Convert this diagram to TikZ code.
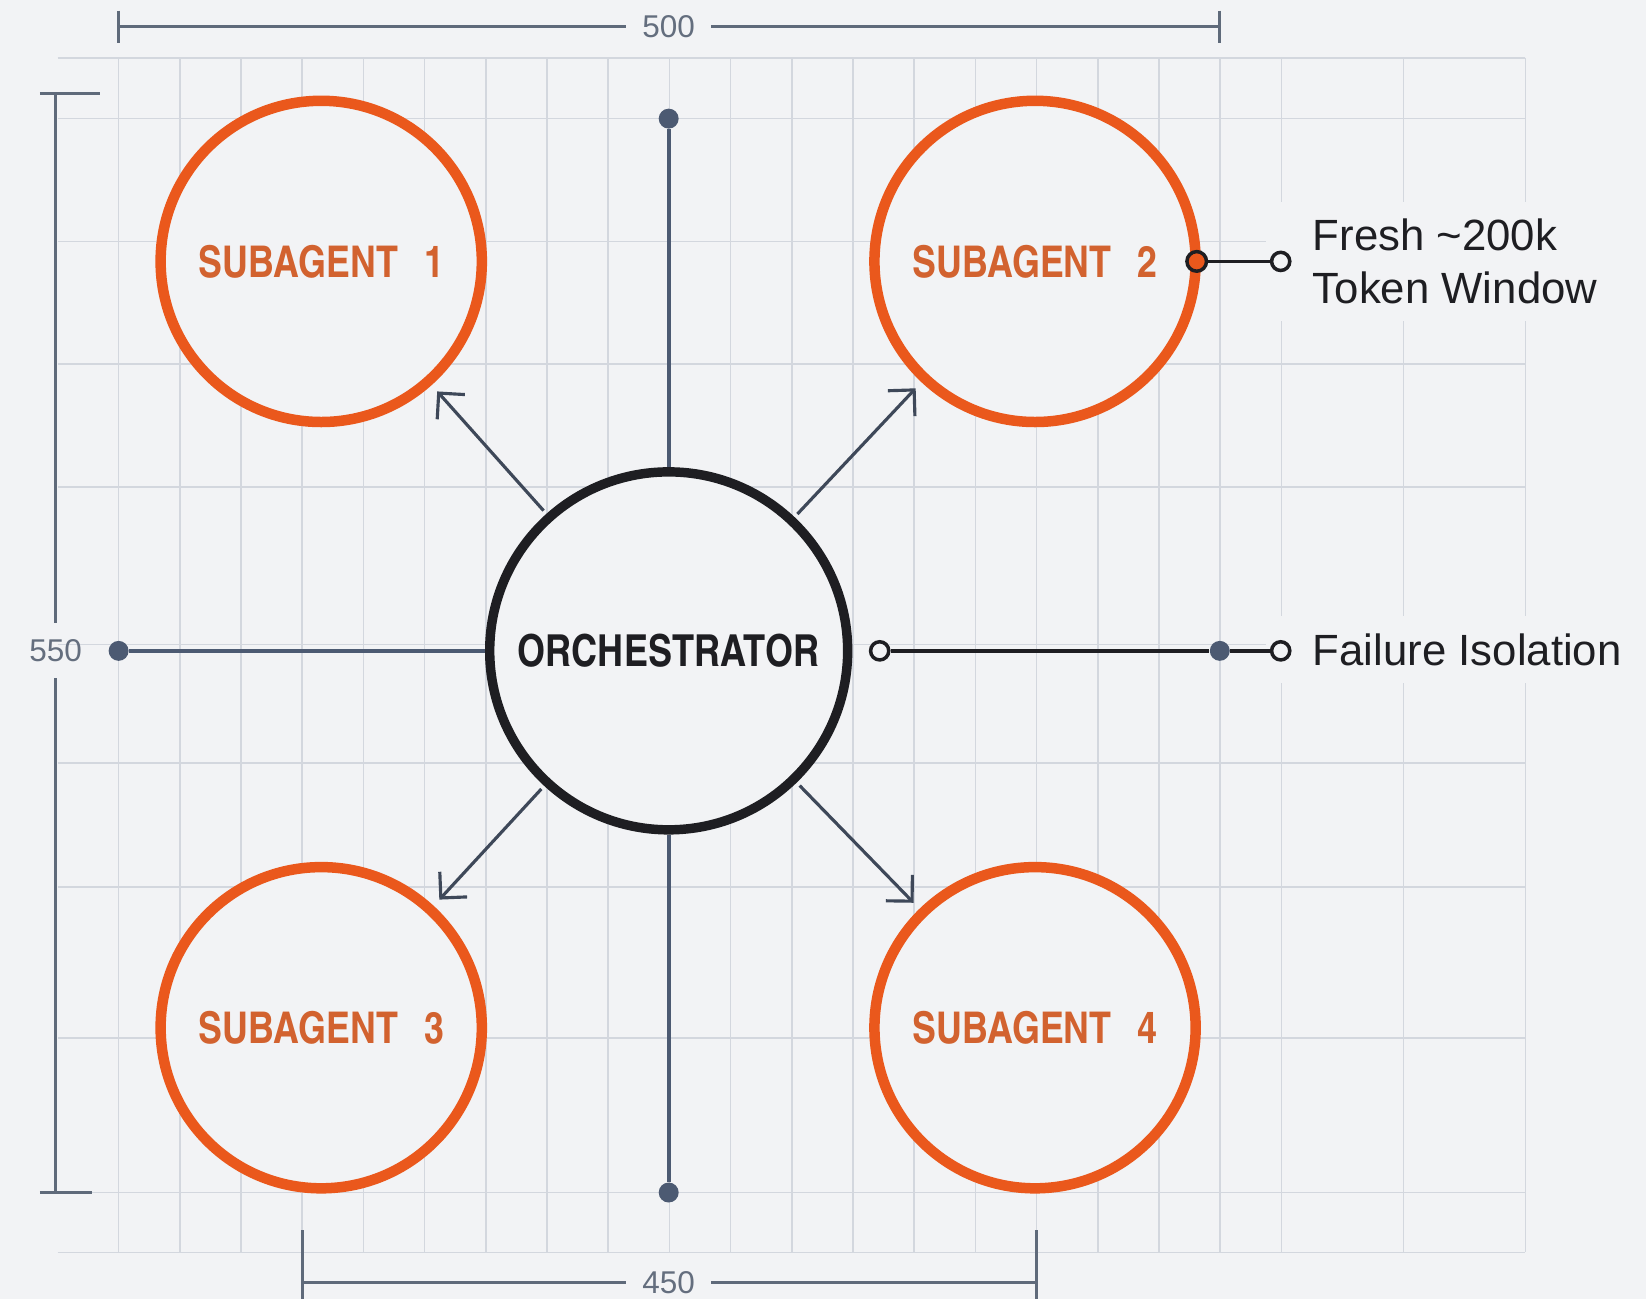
\documentclass[tikz,border=0pt]{standalone}
\usepackage{fontspec}
\setmainfont{Liberation Sans}
\newfontfamily\cnfont{texgyreheroscn-bold.otf}
\usetikzlibrary{arrows.meta}
\definecolor{bg}{HTML}{F2F3F5}
\definecolor{gridc}{HTML}{D3D7DE}
\definecolor{orng}{HTML}{EA581C}
\definecolor{orngtxt}{HTML}{D2622F}
\definecolor{slate}{HTML}{4C5A72}
\definecolor{arrc}{HTML}{3E4859}
\definecolor{dimc}{HTML}{5F6A7A}
\definecolor{dimtxtc}{HTML}{646E7E}
\definecolor{ink}{HTML}{1E1E22}
\tikzset{
  gridline/.style={draw=gridc, line width=0.45pt},
  subnode/.style={circle, draw=orng, line width=3pt, fill=bg, minimum size=91.8pt, inner sep=0pt,
    text=orngtxt, font=\cnfont\fontsize{12.5}{15}\selectfont},
  orchnode/.style={circle, draw=ink, line width=2.7pt, fill=bg, minimum size=102.3pt, inner sep=0pt,
    text=ink, font=\cnfont\fontsize{12.6}{15}\selectfont},
  lbl/.style={fill=bg, text=ink, align=left, inner xsep=13.5pt, inner ysep=5pt,
    font=\fontsize{12.5}{15}\selectfont},
  dimtxt/.style={text=dimtxtc, inner sep=4.5pt, font=\fontsize{9}{10}\selectfont},
  dimline/.style={draw=dimc, line width=0.9pt},
  spoke/.style={draw=slate, line width=1.05pt},
  blk/.style={draw=ink, line width=1pt},
  arr/.style={draw=arrc, line width=0.9pt, -{Straight Barb[length=5.3pt,width=10.6pt]}, shorten >=2.4pt, shorten <=1.2pt},
  dotnode/.style={circle, fill=slate, minimum size=5.7pt, inner sep=0pt},
  odot/.style={circle, draw=ink, line width=1pt, fill=bg, minimum size=5.2pt, inner sep=0pt},
  cdot/.style={circle, draw=ink, line width=1pt, fill=orng, minimum size=5.6pt, inner sep=0pt}
}
\begin{document}
\begin{tikzpicture}[x=0.3pt,y=-0.3pt]
\useasboundingbox (0,0) rectangle (1568,1237);
\fill[bg] (0,0) rectangle (1568,1237);
% grid
\foreach \k in {0,...,19} \draw[gridline] ({113+58.3*\k},55) -- ({113+58.3*\k},1193);
\foreach \x in {1337,1453} \draw[gridline] (\x,55) -- (\x,1193);
\foreach \y in {55,113,230,347,464,614,727,845,989,1136,1193} \draw[gridline] (55,\y) -- (1453,\y);
% labels
\node[lbl, anchor=west] (fresh) at (1205,249) {Fresh \textasciitilde200k\\Token Window};
\node[lbl, anchor=west] (fail) at (1205,619) {Failure Isolation};
% dimensions
\coordinate (tl) at (113,25); \coordinate (tr) at (1162,25);
\node[dimtxt] (t500) at (637,25) {500};
\draw[dimline] (tl) -- (t500) -- (tr);
\draw[dimline] (113,10) -- (113,41);
\draw[dimline] (1162,10) -- (1162,41);
\coordinate (lt) at (53,89); \coordinate (lb) at (53,1136);
\node[dimtxt] (t550) at (53,620) {550};
\draw[dimline] (lt) -- (t550) -- (lb);
\draw[dimline] (38,89) -- (95,89);
\draw[dimline] (38,1136) -- (88,1136);
\coordinate (bl) at (288,1222); \coordinate (br) at (987,1222);
\node[dimtxt] (t450) at (637,1222) {450};
\draw[dimline] (bl) -- (t450) -- (br);
\draw[dimline] (288,1172) -- (288,1240);
\draw[dimline] (987,1172) -- (987,1240);
% circles
\node[orchnode] (orch) at (637,620) {ORCHESTRATOR};
\node[subnode] (s1) at (306,249) {SUBAGENT\hspace{0.6em}1};
\node[subnode] (s2) at (986,249) {SUBAGENT\hspace{0.6em}2};
\node[subnode] (s3) at (306,979) {SUBAGENT\hspace{0.6em}3};
\node[subnode] (s4) at (986,979) {SUBAGENT\hspace{0.6em}4};
% spokes
\node[dotnode] (dT) at (637,113) {};
\node[dotnode] (dB) at (637,1136) {};
\node[dotnode] (dL) at (113,620) {};
\draw[spoke] (dT) -- (orch);
\draw[spoke] (orch) -- (dB);
\draw[spoke] (dL) -- (orch);
% right connector
\node[odot] (oR) at (838,620) {};
\node[dotnode] (dR) at (1162,620) {};
\node[odot] (oF) at (1220,620) {};
\draw[blk] (oR) -- (dR) -- (oF);
% subagent 2 connector
\node[cdot] (c2) at (1140,249) {};
\node[odot] (oT) at (1220,249) {};
\draw[blk] (c2) -- (oT);
% arrows
\draw[arr] (orch) -- (s1);
\draw[arr] (orch) -- (s2);
\draw[arr] (orch) -- (s3);
\draw[arr] (orch) -- (s4);
\end{tikzpicture}
\end{document}
